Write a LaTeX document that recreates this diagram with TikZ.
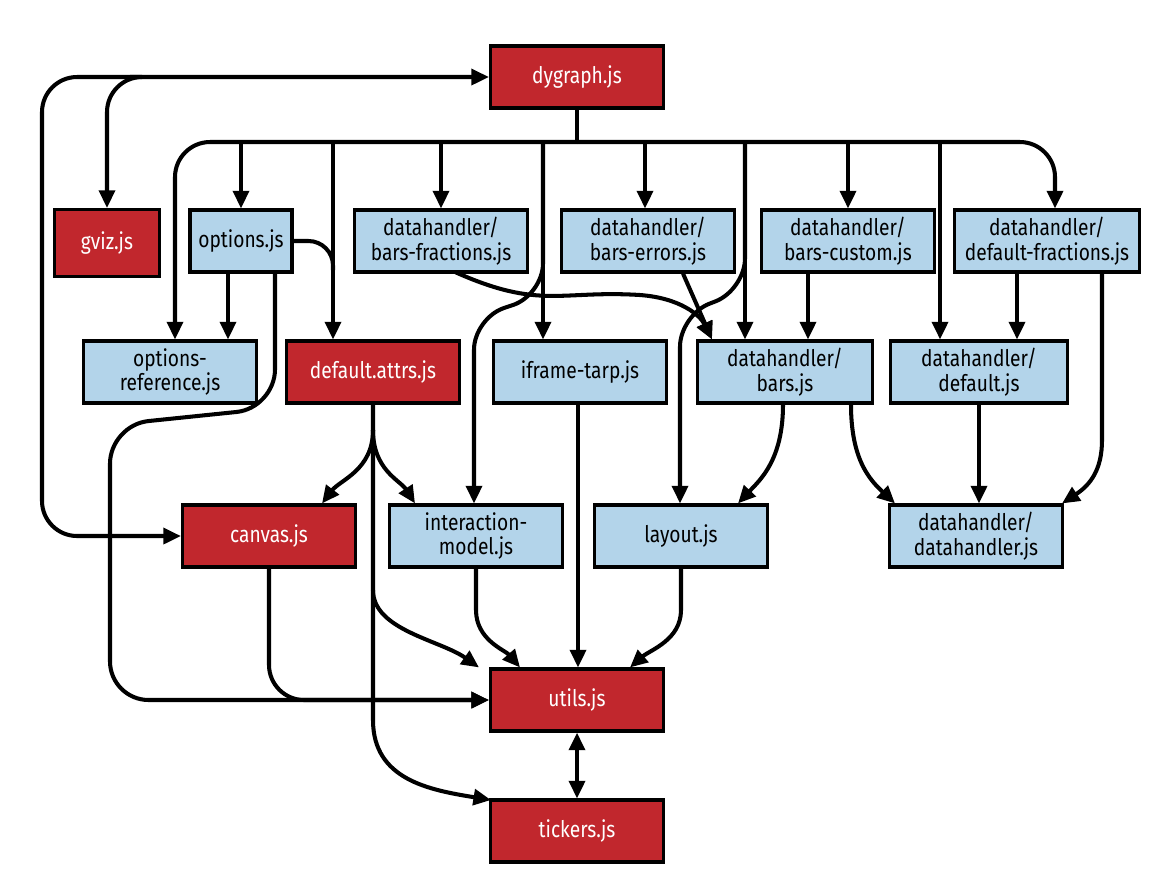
\documentclass[tikz,border=0pt]{standalone}
\usepackage{fontspec}
\setmainfont{Fira Sans}[FakeStretch=0.84]
\usetikzlibrary{arrows.meta}
\definecolor{modred}{HTML}{C1272D}
\definecolor{modblue}{HTML}{B3D4EA}
\begin{document}
\begin{tikzpicture}[x=0.02cm,y=-0.02cm,
    >={Triangle[width=9pt,length=10pt]},
    line width=2.3pt,
    box/.style={draw,line width=1.8pt,minimum width=3.46cm,minimum height=1.24cm,align=center,font=\fontsize{13}{14}\selectfont,inner sep=1pt},
    core/.style={box,fill=modred,text=white},
    mod/.style={box,fill=modblue}]
        \useasboundingbox(0,0)rectangle(1169,894);
        % top row
        \node[core](dygraph)at(577,77){dygraph.js};
        \node[core,minimum width=2.1cm,minimum height=1.34cm](gviz)at(107,243){gviz.js};
        \node[mod,minimum width=2.04cm](options)at(241,241){options.js};
        \node[mod](bfrac)at(441,241){datahandler/\\bars-fractions.js};
        \node[mod](berr)at(648,241){datahandler/\\bars-errors.js};
        \node[mod](bcust)at(848,241){datahandler/\\bars-custom.js};
        \node[mod,minimum width=3.7cm](dfrac)at(1047,241){datahandler/\\default-fractions.js};
        % middle row
        \node[mod](optref)at(170,372){options-\\reference.js};
        \node[core](attrs)at(373,372){default.attrs.js};
        \node[mod](iframe)at(580,372){iframe-tarp.js};
        \node[mod,minimum width=3.5cm](bars)at(785,372){datahandler/\\bars.js};
        \node[mod,minimum width=3.54cm](dflt)at(979,372){datahandler/\\default.js};
        % lower row
        \node[core](canvas)at(269,536){canvas.js};
        \node[mod](inter)at(476,536){interaction-\\model.js};
        \node[mod](layout)at(681,536){layout.js};
        \node[mod](dh)at(976,536){datahandler/\\datahandler.js};
        \node[core](utils)at(577,700){utils.js};
        \node[core](tickers)at(577,831){tickers.js};

        % dygraph bus
        \draw(dygraph.south)--(577,142);
        \draw[->,rounded corners=20](577,142)-|(175,0|-optref.north);
        \draw[->,rounded corners=20](577,142)-|(1055,0|-dfrac.north);
        \foreach \x/\n in {241/options,441/bfrac,645/berr,848/bcust}
            \draw[->](\x,142)--(\x,0|-\n.north);
        \foreach \x/\n in {333/attrs,543/iframe,745/bars,940/dflt}
            \draw[->](\x,142)--(\x,0|-\n.north);
        \draw[->,rounded corners=18](543,142)--(543,295)--(474,318)--(474,0|-inter.north);
        \draw[->,rounded corners=18](745,142)--(745,290)--(680,315)--(680,0|-layout.north);
        % canvas, gviz, dygraph
        \draw[<->,rounded corners=20](canvas.west)-|(42,77)--(dygraph.west);
        \draw[->,rounded corners=20](130,77)-|(107,0|-gviz.north);
        % options
        \draw[->](228,0|-options.south)--(228,0|-optref.north);
        \draw[rounded corners=14](options.east)-|(333,270);
        \draw[->,rounded corners=22](275,0|-options.south)--(275,408)--(110,425)|-(utils.west);
        % bars
        \draw[->](455,272)..controls(540,310)and(560,290)..(640,295)..controls(680,298)and(700,315)..(712,0|-bars.north);
        \draw[->](683,0|-berr.south)--(712,0|-bars.north);
        \draw[->](808,0|-bcust.south)--(808,0|-bars.north);
        \draw[->](1017,0|-dfrac.south)--(1017,0|-dflt.north);
        \draw[->](1102,0|-dfrac.south)--(1102,440)..controls(1102,470)and(1090,485)..(1062,0|-dh.north);
        \draw[->](783,0|-bars.south)..controls(783,460)and(760,480)..(738,0|-layout.north);
        \draw[->](851,0|-bars.south)..controls(851,460)and(870,480)..(895,0|-dh.north);
        \draw[->](979,0|-dflt.south)--(979,0|-dh.north);
        % default.attrs
        \draw[->](attrs.south)--(373,430)..controls(373,470)and(340,480)..(322,0|-canvas.north);
        \draw[->](373,430)..controls(373,470)and(400,480)..(415,0|-inter.north);
        \draw[->](373,430)--(373,590)..controls(373,630)and(440,640)..(479,0|-utils.north);
        \draw[->](373,590)--(373,720)..controls(373,780)and(430,790)..(491,800);
        % into utils
        \draw[->](578,0|-iframe.south)--(578,0|-utils.north);
        \draw[->](476,0|-inter.south)--(476,610)..controls(476,640)and(505,650)..(520,0|-utils.north);
        \draw[->](681,0|-layout.south)--(681,610)..controls(681,640)and(650,650)..(630,0|-utils.north);
        \draw[->,rounded corners=20](269,0|-canvas.south)|-(utils.west);
        \draw[<->](utils.south)--(tickers.north);
    \end{tikzpicture}
\end{document}
